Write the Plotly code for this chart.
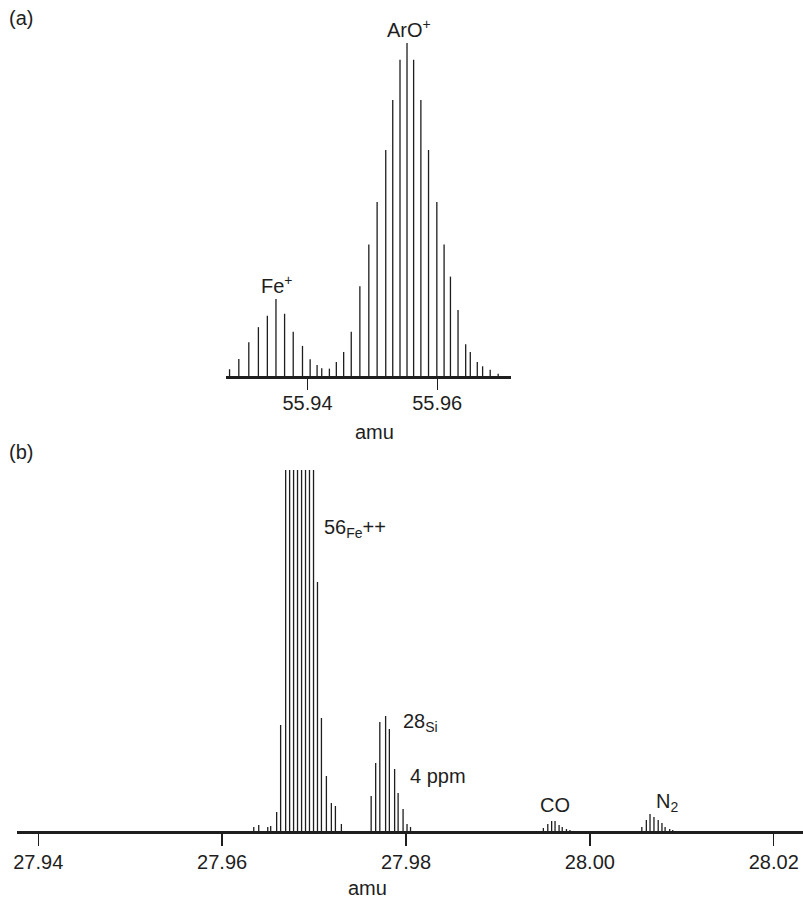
import plotly.graph_objects as go

# ---------------- Panel (a): Fe+ / ArO+ doublet ----------------
mass_a = [55.92798, 55.92941, 55.93095, 55.93243, 55.93381, 55.93514, 55.93647,
          55.93780, 55.93923, 55.94041, 55.94148, 55.94220, 55.94338, 55.94445,
          55.94558, 55.94675, 55.94808, 55.94946, 55.95074, 55.95207, 55.95315,
          55.95427, 55.95535, 55.95637, 55.95749, 55.95867, 55.95995, 55.96107,
          55.96205, 55.96322, 55.96440, 55.96511, 55.96619, 55.96701, 55.96818,
          55.96941]
intensity_a = [20, 51, 101, 146, 180, 230, 186,
               132, 90, 50, 33, 23, 22, 42,
               72, 132, 268, 393, 520, 675, 825,
               945, 995, 945, 825, 675, 520, 393,
               297, 197, 95, 72, 42, 29, 19,
               7]
tick_vals_a = [55.94, 55.96]
tick_text_a = ["55.94", "55.96"]
range_a = [55.92737, 55.97146]

# ---------------- Panel (b): mass 28 region ----------------
mass_fe = [27.96344, 27.96398, 27.96496, 27.96528, 27.96593, 27.96636, 27.96691,
           27.96734, 27.96777, 27.96820, 27.96864, 27.96907, 27.96950, 27.96994,
           27.97037, 27.97080, 27.97134, 27.97188, 27.97232, 27.97297]
intensity_fe = [4, 6, 4, 5, 19, 106, 700,
                950, 1100, 1200, 1150, 1050, 900, 650,
                249, 113, 55, 28, 25, 7]
mass_si = [27.97621, 27.97670, 27.97715, 27.97778, 27.97819, 27.97876, 27.97914,
           27.97968, 27.98011, 27.98049]
intensity_si = [35, 68, 109, 115, 102, 62, 38, 22, 7, 4]
mass_co = [27.99494, 27.99542, 27.99584, 27.99621, 27.99665, 27.99699, 27.99745,
           27.99783]
intensity_co = [3, 7, 10, 10, 6, 4, 2, 1]
mass_n2 = [28.00565, 28.00614, 28.00654, 28.00697, 28.00743, 28.00784, 28.00818,
           28.00868, 28.00901]
intensity_n2 = [4, 11, 17, 14, 11, 8, 4, 2, 1]
tick_vals_b = [27.94, 27.96, 27.98, 28.00, 28.02]
tick_text_b = ["27.94", "27.96", "27.98", "28.00", "28.02"]
range_b = [27.93768, 28.02318]

W, H = 803, 899
INK = "#1e1e1e"
FONT = "Liberation Sans, Arial, Helvetica, sans-serif"
FS = 20


def stems(masses, heights):
    xs, ys = [], []
    for m, h in zip(masses, heights):
        xs += [m, m, None]
        ys += [0, h, None]
    return xs, ys


fig = go.Figure()
xa, ya = stems(mass_a, intensity_a)
fig.add_trace(go.Scatter(x=xa, y=ya, mode="lines", line=dict(color=INK, width=1.3),
                         xaxis="x", yaxis="y", showlegend=False, hoverinfo="skip"))
for mm, ii in [(mass_fe, intensity_fe), (mass_si, intensity_si),
               (mass_co, intensity_co), (mass_n2, intensity_n2)]:
    xb, yb = stems(mm, ii)
    fig.add_trace(go.Scatter(x=xb, y=yb, mode="lines", line=dict(color=INK, width=1.3),
                             xaxis="x2", yaxis="y2", showlegend=False, hoverinfo="skip"))


def px_x(p):
    return p / W


def px_y(p):
    return 1 - p / H


axis_common = dict(showline=True, linewidth=2.6, linecolor=INK, ticks="outside",
                   tickwidth=1.3, tickcolor=INK, showgrid=False,
                   zeroline=False, tickfont=dict(family=FONT, size=FS, color=INK),
                   fixedrange=True)

fig.update_layout(
    width=W, height=H,
    margin=dict(l=0, r=0, t=0, b=0),
    paper_bgcolor="white", plot_bgcolor="white",
    font=dict(family=FONT, size=FS, color=INK),
    xaxis=dict(domain=[px_x(222.7), px_x(510)], anchor="y", range=range_a,
               tickvals=tick_vals_a, ticktext=tick_text_a, ticklen=11,
               ticklabelstandoff=-4, **axis_common),
    yaxis=dict(domain=[px_y(376), px_y(43)], anchor="x", range=[0, 995], visible=False),
    xaxis2=dict(domain=[px_x(13), 1.0], anchor="y2", range=range_b,
                tickvals=tick_vals_b, ticktext=tick_text_b, ticklen=12,
                ticklabelstandoff=-1, **axis_common),
    yaxis2=dict(domain=[px_y(831), px_y(470)], anchor="x2", range=[0, 361], visible=False),
)


def label(text, x, y, xanchor="center"):
    fig.add_annotation(text=text, x=px_x(x), y=px_y(y), xref="paper", yref="paper",
                       xanchor=xanchor, yanchor="middle", showarrow=False,
                       font=dict(family=FONT, size=FS, color=INK))


label("(a)", 3, 18, "left")
label("ArO<sup>+</sup>", 407, 28)
label("Fe<sup>+</sup>", 274, 284)
label("amu", 372, 432)
label("(b)", 3, 452, "left")
label("56<sub>Fe</sub>++", 320, 528, "left")
label("28<sub>Si</sub>", 399, 722, "left")
label("4 ppm", 406, 776, "left")
label("CO", 554, 805)
label("N<sub>2</sub>", 653, 802, "left")
label("amu", 365, 888)

fig.write_html("out.html", config={"displayModeBar": False, "staticPlot": True},
               post_script="document.body.style.margin='0';"
               "document.body.style.padding='0';"
               "document.body.style.overflow='hidden';")
